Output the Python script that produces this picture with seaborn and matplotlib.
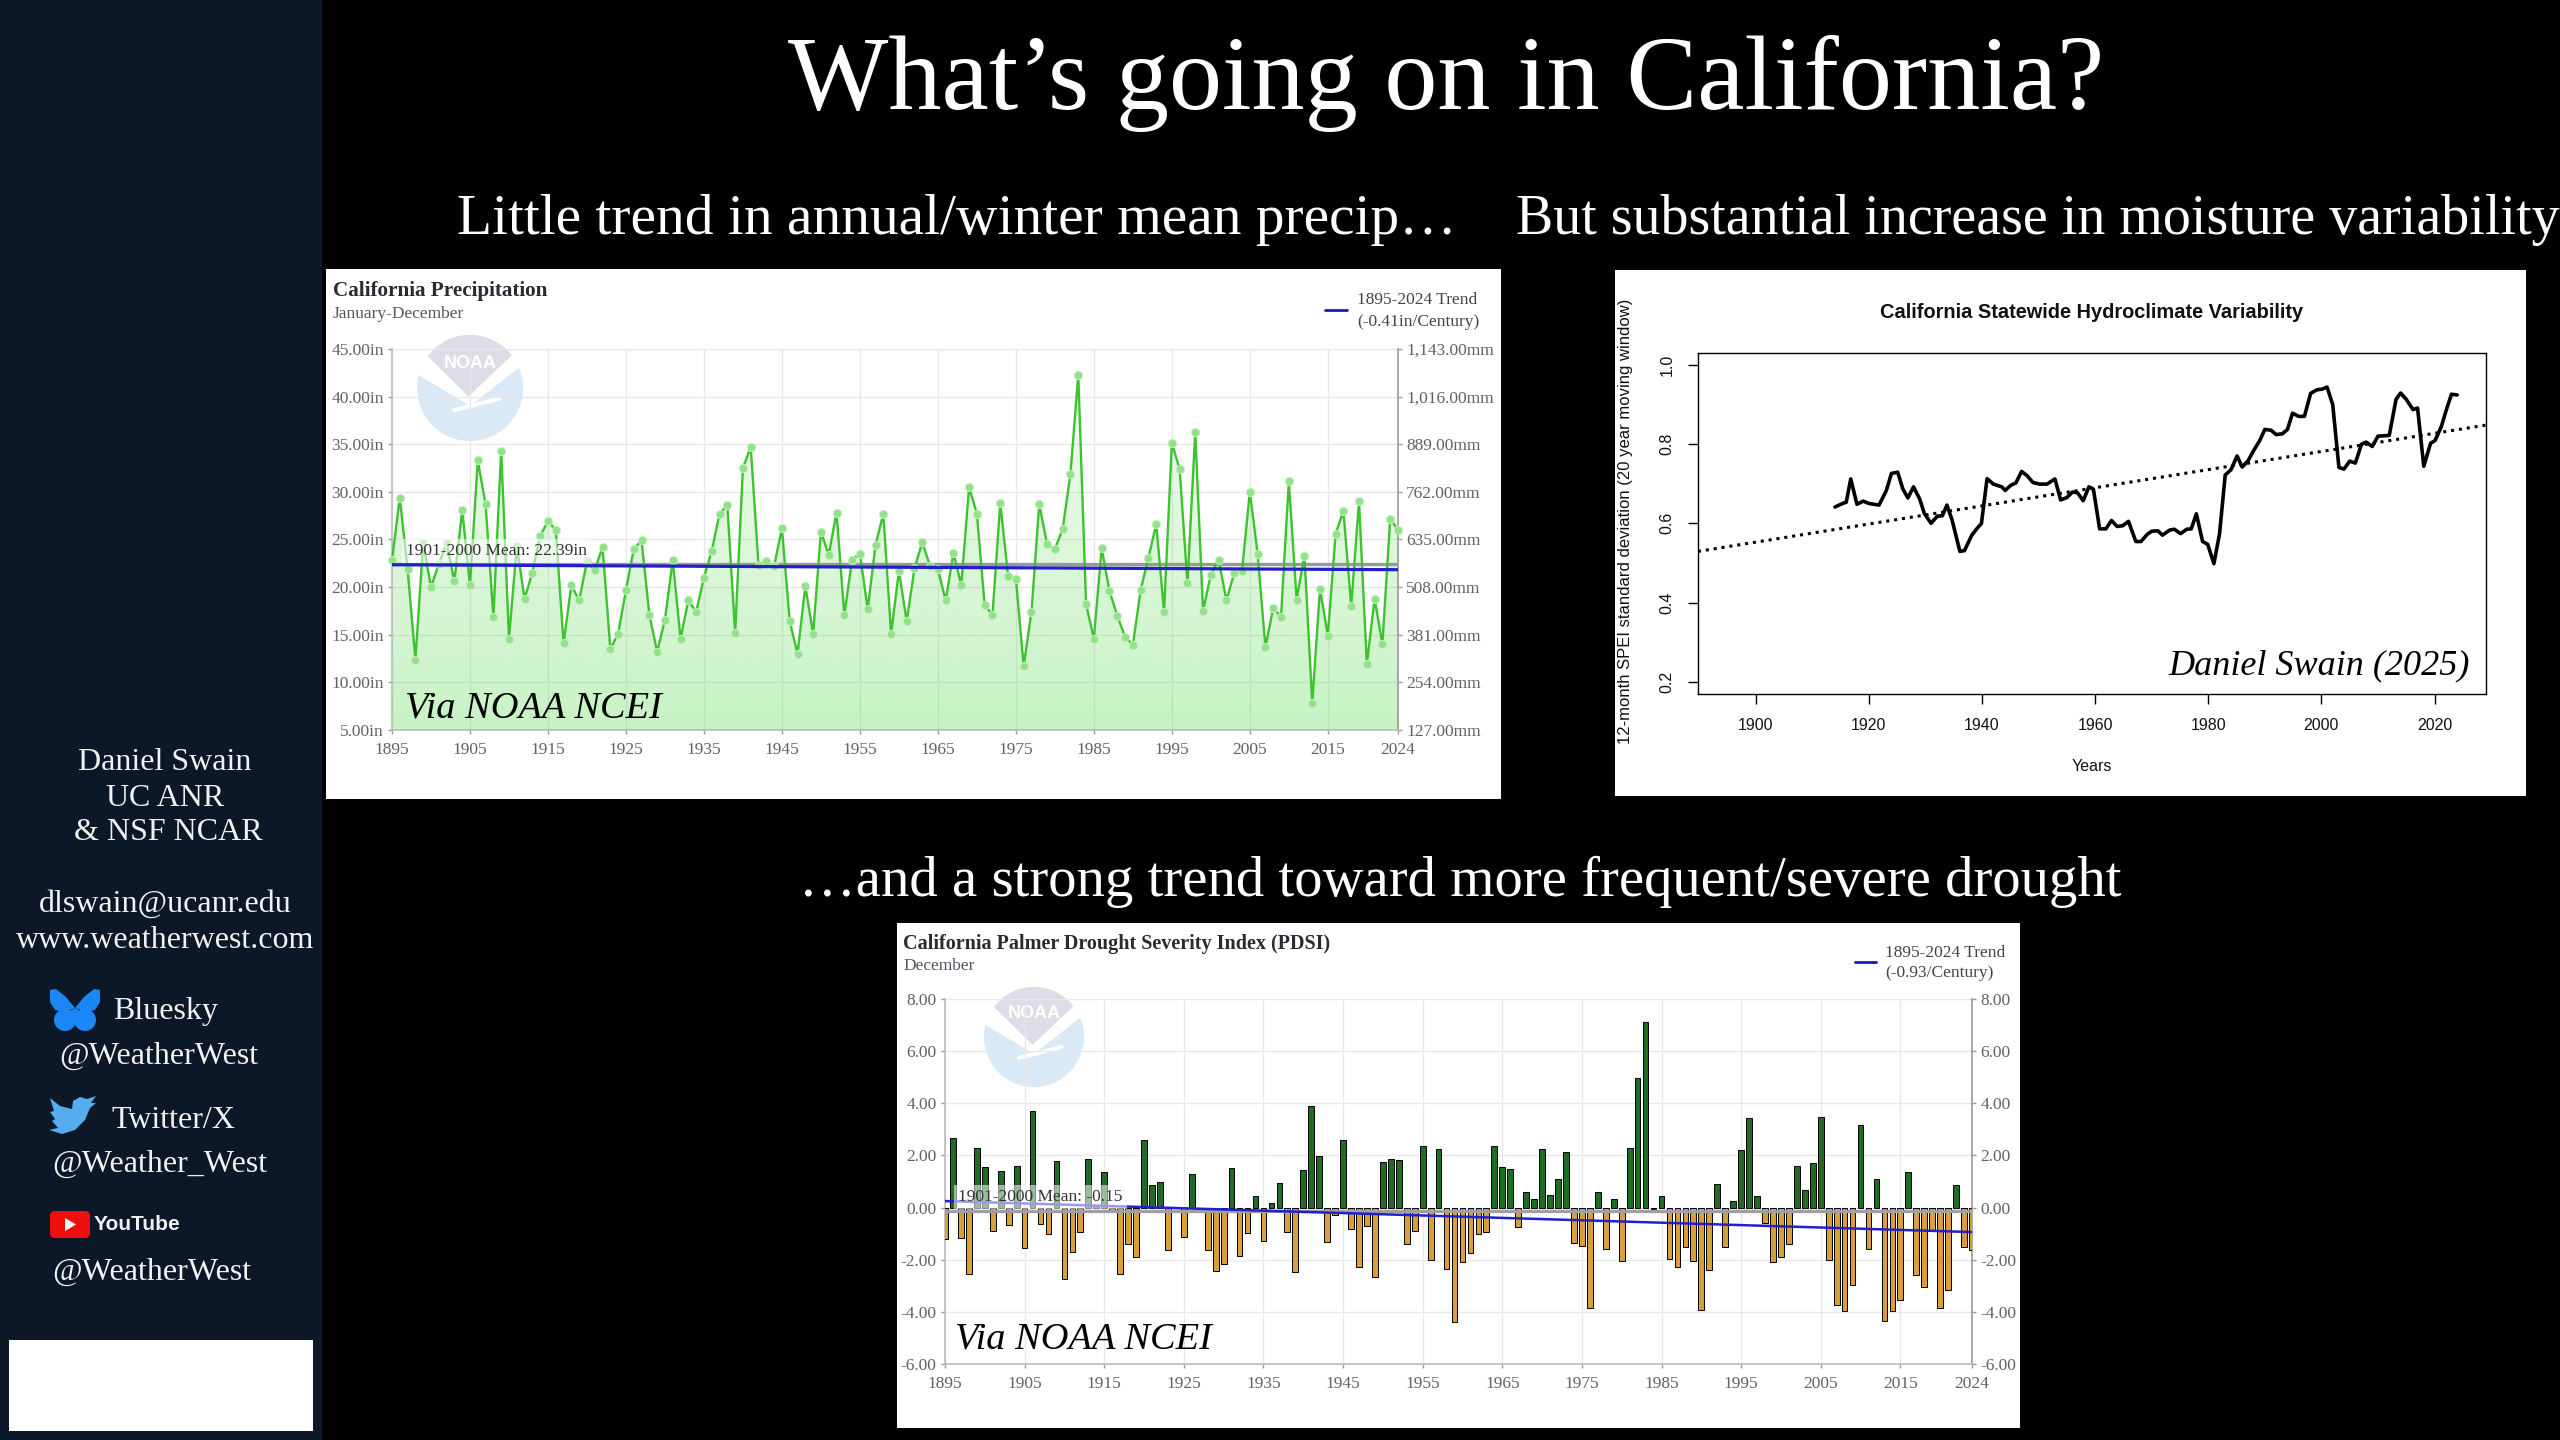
import numpy as np
import pandas as pd
import matplotlib
matplotlib.use('Agg')
import matplotlib.pyplot as plt
import seaborn as sns
from matplotlib.patches import Rectangle, Circle, Polygon, Ellipse, FancyBboxPatch

W, H = 2560, 1440

# --- precipitation panel values (inches) ---
years = list(range(1895, 2025))
precip = [22.8, 29.4, 21.9, 12.4, 24.6, 20.0, 22.4, 24.6, 20.6, 28.1,
          20.2, 33.3, 28.7, 16.9, 34.3, 14.6, 24.3, 18.8, 21.5, 25.4,
          26.9, 26.0, 14.1, 20.2, 18.6, 22.7, 21.8, 24.2, 13.5, 15.1,
          19.7, 24.0, 24.9, 17.1, 13.2, 16.6, 22.8, 14.6, 18.6, 17.4,
          21.0, 23.8, 27.7, 28.6, 15.2, 32.5, 34.7, 22.3, 22.7, 22.2,
          26.2, 16.4, 13.0, 20.1, 15.1, 25.8, 23.4, 27.8, 17.1, 22.9,
          23.5, 17.7, 24.4, 27.7, 15.1, 21.7, 16.4, 22.0, 24.7, 22.2,
          21.9, 18.6, 23.6, 20.2, 30.5, 27.7, 18.1, 17.1, 28.8, 21.2,
          20.9, 11.7, 17.4, 28.7, 24.5, 24.0, 26.1, 31.9, 42.3, 18.2,
          14.6, 24.1, 19.6, 17.0, 14.8, 13.9, 19.7, 23.1, 26.6, 17.4,
          35.1, 32.4, 20.4, 36.3, 17.5, 21.3, 22.9, 18.6, 21.5, 21.7,
          30.0, 23.5, 13.7, 17.8, 16.9, 31.1, 18.7, 23.3, 7.8, 19.8,
          14.9, 25.6, 28.0, 18.0, 29.0, 11.9, 18.8, 14.0, 27.2, 26.0]
precip_mean = 22.39
precip_trend_years = [1895, 2024]
precip_trend = [22.35, 21.83]
precip_yticks = [5, 10, 15, 20, 25, 30, 35, 40, 45]
mm_ticks = [127, 254, 381, 508, 635, 762, 889, 1016, 1143]
decade_ticks = [1895, 1905, 1915, 1925, 1935, 1945, 1955, 1965, 1975, 1985, 1995, 2005, 2015, 2024]

# --- SPEI variability panel ---
spei_years = [1914.0, 1915.5, 1916.0, 1916.8, 1917.9, 1919.0, 1920.0, 1921.8, 1923.1, 1924.0,
              1925.1, 1926.0, 1926.9, 1927.9, 1929.0, 1929.8, 1931.0, 1932.1, 1933.0, 1933.8,
              1934.7, 1936.1, 1936.9, 1938.2, 1939.3, 1939.9, 1940.9, 1942.0, 1943.5, 1944.1,
              1945.1, 1946.0, 1947.0, 1948.0, 1949.0, 1950.2, 1951.5, 1952.9, 1953.9, 1955.0,
              1956.0, 1956.9, 1957.9, 1958.9, 1959.7, 1960.8, 1961.9, 1962.9, 1963.9, 1964.9,
              1965.9, 1967.2, 1968.1, 1969.2, 1970.0, 1971.1, 1971.9, 1973.2, 1974.0, 1975.1,
              1976.2, 1977.0, 1977.9, 1979.0, 1979.9, 1981.0, 1982.0, 1983.0, 1984.0, 1985.1,
              1986.0, 1987.0, 1988.0, 1989.1, 1990.0, 1991.1, 1992.0, 1993.1, 1994.0, 1994.9,
              1996.0, 1997.0, 1998.1, 1999.2, 2000.2, 2001.0, 2002.0, 2003.1, 2004.0, 2005.0,
              2006.0, 2007.1, 2007.9, 2009.0, 2010.0, 2012.0, 2013.2, 2014.0, 2015.0, 2016.2,
              2017.0, 2018.1, 2019.3, 2020.1, 2021.2, 2022.1, 2023.0, 2024.0]
spei_values = [.641, .651, .653, .712, .648, .656, .650, .646, .683, .726,
               .729, .687, .664, .692, .661, .625, .600, .618, .619, .646,
               .609, .529, .531, .570, .590, .599, .713, .699, .692, .683,
               .696, .702, .731, .720, .703, .699, .699, .712, .659, .665,
               .679, .677, .657, .692, .686, .586, .586, .607, .592, .594,
               .605, .554, .554, .572, .580, .581, .570, .583, .585, .574,
               .585, .586, .624, .554, .547, .498, .574, .722, .735, .770,
               .742, .757, .783, .809, .837, .835, .824, .826, .837, .878,
               .870, .870, .928, .937, .939, .944, .900, .741, .737, .757,
               .752, .800, .805, .794, .820, .822, .913, .929, .913, .887,
               .891, .744, .802, .809, .844, .887, .926, .924]
spei_trend_years = [1889.8, 2029.1]
spei_trend = [.529, .848]

# --- PDSI panel ---
pdsi = [-1.2, 2.68, -1.17, -2.53, 2.3, 1.56, -.9, 1.4, -.65, 1.6,
        -1.55, 3.69, -.62, -1.0, 1.78, -2.73, -1.72, -.93, 1.86, .08,
        1.38, -.15, -2.53, -1.4, -1.9, 2.58, .85, .97, -1.64, .02,
        -1.13, 1.29, -.15, -1.64, -2.45, -2.17, 1.52, -1.87, -.97, .44,
        -1.27, .16, .93, -.93, -2.49, 1.45, 3.88, 1.98, -1.32, -.27,
        2.61, -.81, -2.29, -.69, -2.65, 1.75, 1.87, 1.83, -1.4, -.88,
        2.37, -2.02, 2.25, -2.37, -4.38, -2.08, -1.75, -1.0, -.93, 2.37,
        1.56, 1.49, -.73, .58, .34, 2.25, .47, 1.1, 2.14, -1.36,
        -1.47, -3.85, .58, -1.59, .32, -2.06, 2.29, 4.98, 7.12, -.04,
        .44, -1.99, -2.29, -1.51, -2.06, -3.93, -2.41, .89, -1.51, .27,
        2.19, 3.42, .44, -.58, -2.1, -1.9, -1.4, 1.6, .68, 1.72,
        3.47, -2.0, -3.75, -3.98, -2.96, 3.15, -1.6, 1.09, -4.36, -3.98,
        -3.54, 1.38, -2.6, -3.04, -.85, -3.85, -3.15, .86, -1.51, -1.64]
pdsi_mean = -0.15
pdsi_trend_years = [1895, 2024]
pdsi_trend = [0.25, -0.94]
pdsi_yticks = [-6, -4, -2, 0, 2, 4, 6, 8]

SERIF = 'Liberation Serif'
SANS = 'Liberation Sans'
GRID = '#e8e8ea'
TICKTXT = '#5f6368'
SIDEBAR = '#0c1727'

sns.set_theme(style='white')
plt.rcParams['font.family'] = [SERIF, 'DejaVu Sans']

fig = plt.figure(figsize=(W / 100, H / 100), dpi=100, facecolor='black')


def px_axes(left, top, right, bottom, **kw):
    return fig.add_axes([left / W, 1 - bottom / H, (right - left) / W, (bottom - top) / H], **kw)


bg = px_axes(0, 0, W, H, zorder=0)
bg.set_xlim(0, W)
bg.set_ylim(H, 0)
bg.axis('off')
fg = px_axes(0, 0, W, H, zorder=5)
fg.set_xlim(0, W)
fg.set_ylim(H, 0)
fg.axis('off')
fg.patch.set_alpha(0)


def draw_noaa(ax, cx, cy, r):
    ax.add_patch(Circle((cx, cy), r, fc='#d9e9f5', ec='none'))
    ax.add_patch(Polygon([(cx + a * r, cy + b * r) for a, b in
                          [(-1.05, -.70), (1.05, -.70), (.97, -.42), (0, .34), (-1.0, -.26)]],
                         fc='white', ec='none'))
    t = np.radians(np.linspace(143, 38, 30))
    arc = [(cx + r * np.cos(a), cy - r * np.sin(a)) for a in t]
    ax.add_patch(Polygon(arc + [(cx - .03 * r, cy + .16 * r)], fc='#dcdde6', ec='none'))
    ax.plot([cx - .3 * r, cx + .55 * r], [cy + .42 * r, cy + .2 * r], color='white', lw=3)
    ax.text(cx, cy - .47 * r, 'NOAA', color='white', fontsize=13, family=SANS,
            fontweight='bold', ha='center', va='center')


def highcharts_axes(ax, ylim, yticks, fmt):
    ax.set_facecolor('none')
    ax.set_xlim(1895, 2024)
    ax.set_ylim(*ylim)
    ax.set_xticks(decade_ticks)
    ax.set_yticks(yticks)
    ax.set_yticklabels([fmt(v) for v in yticks])
    ax.grid(True, color=GRID, lw=1.0)
    ax.set_axisbelow(True)
    ax.set_xlabel('')
    ax.set_ylabel('')
    ax.tick_params(axis='both', length=3, width=1, color='#999999', labelcolor=TICKTXT,
                   labelsize=12.5, pad=3, left=True, bottom=True)
    ax.tick_params(axis='x', pad=6)
    ax.spines['top'].set_visible(False)
    ax.spines['left'].set_color('#bbbbbb')
    ax.spines['right'].set_color('#999999')
    ax.spines['bottom'].set_color('#bbbbbb')
    for s in ax.spines.values():
        s.set_linewidth(1.2)


# --- backgrounds ---
bg.add_patch(Rectangle((0, 0), 322, H, fc=SIDEBAR, ec='none'))
bg.add_patch(Rectangle((9, 1340), 304, 91, fc='white', ec='none'))
bg.add_patch(Rectangle((326, 269), 1175, 530, fc='white', ec='none'))
bg.add_patch(Rectangle((1615, 270), 911, 526, fc='white', ec='none'))
bg.add_patch(Rectangle((897, 923), 1123, 505, fc='white', ec='none'))
draw_noaa(bg, 470, 388, 53)
draw_noaa(bg, 1034, 1037, 50)

# --- precipitation ---
ax1 = px_axes(392, 349, 1398, 730, zorder=2)
df_precip = pd.DataFrame({'year': years, 'precip': precip})
fill = ax1.fill_between(years, precip, 5, color='none')
ramp = np.zeros((256, 1, 4))
ramp[..., 0] = 100 / 255
ramp[..., 1] = 220 / 255
ramp[..., 2] = 90 / 255
ramp[..., 3] = np.linspace(.06, .36, 256)[:, None]
im = ax1.imshow(ramp, extent=(1895, 2024, 5, 45), aspect='auto', origin='upper', zorder=1)
im.set_clip_path(fill.get_paths()[0], ax1.transData)
ax1.axhline(precip_mean, color='#999999', lw=2.4, zorder=2)
sns.lineplot(data=df_precip, x='year', y='precip', ax=ax1, color='#3cc32e', lw=1.7,
             marker='o', markersize=6, markerfacecolor='#93e28a', markeredgecolor='#c9f2c4',
             markeredgewidth=.6, zorder=3, clip_on=False, estimator=None)
sns.lineplot(x=precip_trend_years, y=precip_trend, ax=ax1, color='#2020c8', lw=2.3, zorder=4,
             estimator=None)
highcharts_axes(ax1, (5, 45), precip_yticks, lambda v: f'{v:.2f}in')
ax1r = ax1.twinx()
ax1r.set_zorder(1)
ax1r.set_ylim(127, 1143)
ax1r.set_yticks(mm_ticks)
ax1r.set_yticklabels([f'{v:,.2f}mm' for v in mm_ticks])
ax1r.grid(False)
ax1r.tick_params(axis='y', right=True, length=3, width=1, color='#999999', labelcolor=TICKTXT,
                 labelsize=12.5, pad=3)
for s in ax1r.spines.values():
    s.set_visible(False)

# --- variability ---
ax2 = px_axes(1698, 353, 2486, 694, zorder=2)
df_spei = pd.DataFrame({'year': spei_years, 'spei': spei_values})
sns.lineplot(data=df_spei, x='year', y='spei', ax=ax2, color='black', lw=2.6, estimator=None)
sns.lineplot(x=spei_trend_years, y=spei_trend, ax=ax2, color='black', lw=2.2,
             linestyle=(0, (1, 1.6)), estimator=None)
ax2.set_facecolor('none')
ax2.set_xlim(1889.8, 2029.1)
ax2.set_ylim(.169, 1.03)
ax2.set_xticks(range(1900, 2021, 20))
ax2.set_yticks([.2, .4, .6, .8, 1.0])
ax2.set_yticklabels(['0.2', '0.4', '0.6', '0.8', '1.0'], rotation=90, va='center')
ax2.set_xlabel('Years', family=SANS, fontsize=11.5, color='#111111')
ax2.xaxis.set_label_coords(.5, -.19)
ax2.set_ylabel('12-month SPEI standard deviation (20 year moving window)', family=SANS,
               fontsize=12, color='#111111')
ax2.yaxis.set_label_coords(-.082, .507)
ax2.tick_params(axis='both', length=7, width=1, color='black', labelcolor='#111111',
                labelsize=11.5, pad=10, left=True, bottom=True)
for lab in ax2.get_xticklabels() + ax2.get_yticklabels():
    lab.set_family(SANS)
for s in ax2.spines.values():
    s.set_color('black')
    s.set_linewidth(1)

# --- PDSI ---
ax3 = px_axes(945, 999, 1972, 1364, zorder=2)
df_pdsi = pd.DataFrame({'year': years, 'pdsi': pdsi})
df_pdsi['sign'] = np.where(df_pdsi['pdsi'] >= 0, 'wet', 'dry')
sns.barplot(data=df_pdsi, x='year', y='pdsi', hue='sign', native_scale=True, dodge=False,
            palette={'wet': '#127a16', 'dry': '#f2a61f'}, width=.72, edgecolor='black',
            linewidth=.7, legend=False, ax=ax3, zorder=3, errorbar=None)
ax3.axhline(pdsi_mean, color='#a0a0a0', lw=2.4, zorder=4)
sns.lineplot(x=pdsi_trend_years, y=pdsi_trend, ax=ax3, color='#2020d0', lw=1.8, zorder=5,
             estimator=None)
highcharts_axes(ax3, (-6, 8), pdsi_yticks, lambda v: f'{v:.2f}')
ax3r = ax3.twinx()
ax3r.set_zorder(1)
ax3r.set_ylim(-6, 8)
ax3r.set_yticks(pdsi_yticks)
ax3r.set_yticklabels([f'{v:.2f}' for v in pdsi_yticks])
ax3r.grid(False)
ax3r.tick_params(axis='y', right=True, length=3, width=1, color='#999999', labelcolor=TICKTXT,
                 labelsize=12.5, pad=3)
for s in ax3r.spines.values():
    s.set_visible(False)

# --- slide text ---
fg.text(1446, 83, 'What\u2019s going on in California?', color='white', fontsize=76.5,
        ha='center', va='center')
fg.text(957, 220, 'Little trend in annual/winter mean precip\u2026', color='white', fontsize=41.3,
        ha='center', va='center')
fg.text(2038, 220, 'But substantial increase in moisture variability', color='white', fontsize=40.3,
        ha='center', va='center')
fg.text(1460, 882, '\u2026and a strong trend toward more frequent/severe drought', color='white',
        fontsize=40.9, ha='center', va='center')

side = [(165, 762, 'Daniel Swain'), (165, 798, 'UC ANR'), (168, 833, '& NSF NCAR'),
        (165, 904, 'dlswain@ucanr.edu'), (165, 940, 'www.weatherwest.com'),
        (166, 1011, 'Bluesky'), (159, 1056, '@WeatherWest'),
        (173, 1120, 'Twitter/X'), (160, 1164, '@Weather_West'), (152, 1272, '@WeatherWest')]
for x, y, s in side:
    fg.text(x, y, s, color='#f2f2f2', fontsize=23, ha='center', va='center')

# social icons
blue = '#1b86f5'
fg.add_patch(Polygon([(75, 1008), (66, 997), (56, 989), (50, 990), (50, 1002), (55, 1010), (64, 1012)],
                     fc=blue, ec='none'))
fg.add_patch(Polygon([(75, 1008), (84, 997), (94, 989), (100, 990), (100, 1002), (95, 1010), (86, 1012)],
                     fc=blue, ec='none'))
fg.add_patch(Ellipse((65, 1020), 22, 22, fc=blue, ec='none'))
fg.add_patch(Ellipse((85, 1020), 22, 22, fc=blue, ec='none'))
fg.add_patch(Polygon([(75, 1008), (68, 1012), (75, 1024), (82, 1012)], fc=blue, ec='none'))
fg.add_patch(Polygon([(49, 1130), (58, 1128), (52, 1121), (55, 1119), (50, 1112), (54, 1111),
                      (50, 1098), (60, 1106), (72, 1109), (73, 1101), (80, 1097), (87, 1099),
                      (96, 1096), (91, 1103), (96, 1103), (90, 1108), (85, 1120), (75, 1130),
                      (62, 1134)], fc='#55acee', ec='none'))
fg.add_patch(FancyBboxPatch((50, 1211), 40, 27, boxstyle='round,pad=0,rounding_size=5',
                            fc='#f00f0f', ec='none'))
fg.add_patch(Polygon([(65, 1218), (65, 1231), (76, 1224.5)], fc='white', ec='none'))
fg.text(137, 1225, 'YouTube', color='#f2f2f2', fontsize=15, fontweight='bold',
        family=SANS, ha='center', va='center')

# --- chart text ---
fg.text(333, 291, 'California Precipitation', color='#2a2a33', fontsize=15.2, fontweight='bold', va='center')
fg.text(333, 314, 'January-December', color='#555560', fontsize=12.5, va='center')
fg.text(903, 944, 'California Palmer Drought Severity Index (PDSI)', color='#2a2a33', fontsize=14.5,
        fontweight='bold', va='center')
fg.text(903, 966, 'December', color='#555560', fontsize=12.5, va='center')

fg.plot([1325, 1347], [310, 310], color='#1818c0', lw=2)
fg.text(1357, 300, '1895-2024 Trend', color='#444444', fontsize=12.5, va='center')
fg.text(1357, 322, '(-0.41in/Century)', color='#444444', fontsize=12.5, va='center')
fg.plot([1855, 1876], [962, 962], color='#1818c0', lw=2)
fg.text(1885, 953, '1895-2024 Trend', color='#444444', fontsize=12.5, va='center')
fg.text(1885, 973, '(-0.93/Century)', color='#444444', fontsize=12.5, va='center')

box = dict(fc='white', ec='none', alpha=.55, pad=3)
fg.text(406, 551, '1901-2000 Mean: 22.39in', color='#333333', fontsize=12.5, va='center', bbox=box)
fg.text(958, 1197, '1901-2000 Mean: -0.15', color='#333333', fontsize=12.5, va='center', bbox=box)

for x, y in [(405, 708), (955, 1339)]:
    fg.text(x, y, 'Via NOAA NCEI', color='black', fontsize=27.6, style='italic', va='center')
fg.text(2168, 666, 'Daniel Swain (2025)', color='black', fontsize=26, style='italic', va='center')
fg.text(2092, 312, 'California Statewide Hydroclimate Variability', color='#111111', fontsize=14.4,
        fontweight='bold', family=SANS, ha='center', va='center')

fig.savefig('out.png', dpi=100, facecolor='black')
